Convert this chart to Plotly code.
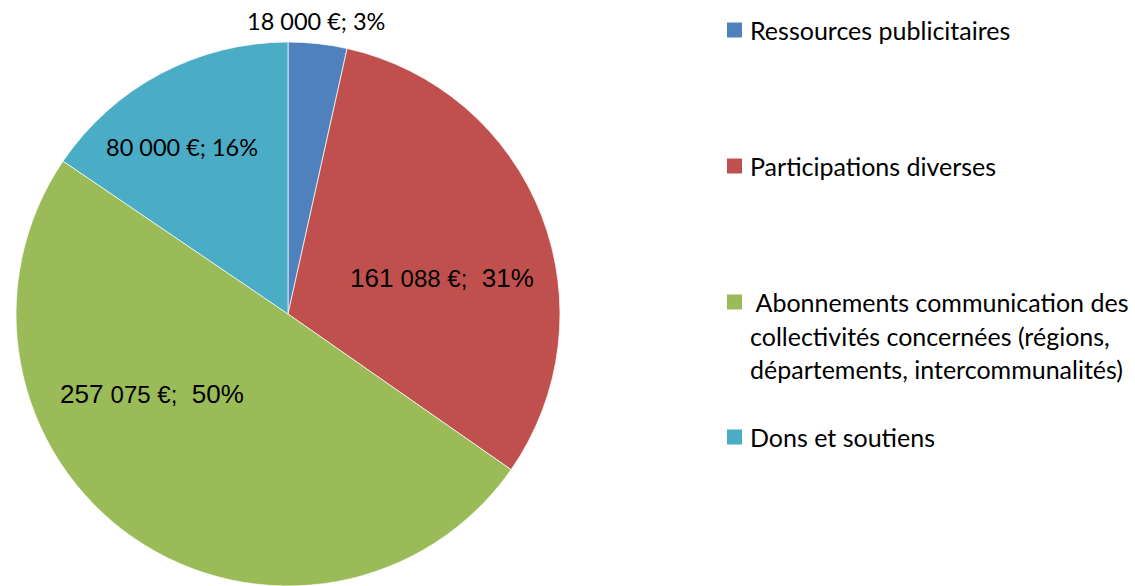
import plotly.graph_objects as go

categories = [
    "Ressources publicitaires",
    "Participations diverses",
    " Abonnements communication des<br>collectivités concernées (régions,<br>départements, intercommunalités)",
    "Dons et soutiens",
]
values = [18000, 161088, 257075, 80000]
percent_labels = [3, 31, 50, 16]
colors = ["#4F81BD", "#C0504D", "#9BBB59", "#4BACC6"]

W, H = 1135, 586


def fmt(v):
    return f"{v:,}".replace(",", " ")

fig = go.Figure()
cx, cy, r = 288, 314, 272
fig.add_trace(go.Pie(
    labels=[c.replace("<br>", " ") for c in categories],
    values=values,
    sort=False,
    direction="clockwise",
    rotation=0,
    marker=dict(colors=colors, line=dict(color="rgba(255,255,255,0.7)", width=1)),
    textinfo="none",
    hoverinfo="skip",
    showlegend=False,
    domain=dict(x=[(cx - r) / W, (cx + r) / W], y=[1 - (cy + r) / H, 1 - (cy - r) / H]),
))

# data label positions (pixels) - layout only
label_pos = [(316, 21), (442, 278), (152, 394), (182, 147)]
big = [False, True, True, False]
annotations = []
for i, (v, p) in enumerate(zip(values, percent_labels)):
    x, y = label_pos[i]
    s = fmt(v)
    if big[i]:
        head, tail = s.split(" ", 1)
        text = (f"{head} <span style='font-size:24px'>{tail} €;</span>  {p}%")
        font = dict(family="Liberation Sans, Arial", size=26, color="#000")
    else:
        text = f"{s} €; {p}%"
        font = dict(family="Lato, Carlito, Calibri", size=23.5, color="#000")
    annotations.append(dict(x=x / W, y=1 - y / H, xref="paper", yref="paper",
                            text=text, showarrow=False, font=font,
                            xanchor="center", yanchor="middle"))

# legend drawn manually
legend_y = [30, 166, 302, 437]
line_gap = 33.5
shapes = []
for i, (cat, col) in enumerate(zip(categories, colors)):
    yc = legend_y[i]
    shapes.append(dict(type="rect", xref="paper", yref="paper",
                       x0=727 / W, x1=742 / W, y0=1 - (yc + 7.5) / H, y1=1 - (yc - 7.5) / H,
                       fillcolor=col, line=dict(width=0)))
    for j, line in enumerate(cat.split("<br>")):
        txt = ("&nbsp;" + line[1:]) if line.startswith(" ") else line
        annotations.append(dict(x=748 / W, y=1 - (yc + j * line_gap) / H,
                                xref="paper", yref="paper", text=txt,
                                showarrow=False, xanchor="left", yanchor="middle",
                                font=dict(family="Lato, Carlito, Calibri", size=25, color="#000")))

fig.update_layout(
    width=W, height=H,
    margin=dict(l=0, r=0, t=0, b=0),
    paper_bgcolor="white", plot_bgcolor="white",
    annotations=annotations, shapes=shapes,
    showlegend=False,
)
fig.write_html("out.html")
